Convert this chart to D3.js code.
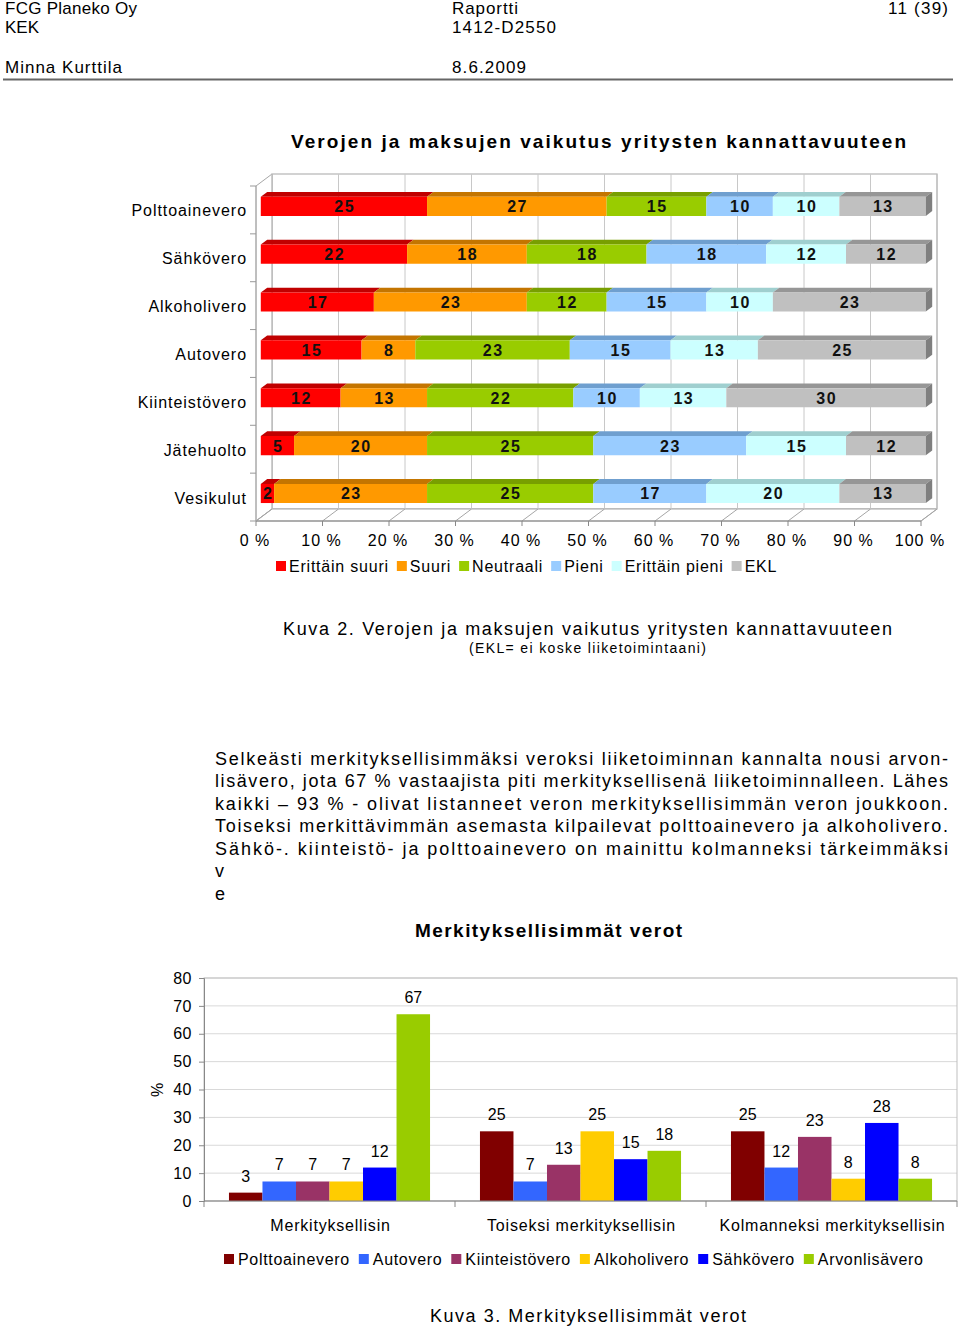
<!DOCTYPE html>
<html><head><meta charset="utf-8">
<script src="https://cdn.jsdelivr.net/npm/d3@7"></script>
<style>
body{margin:0;background:#fff}
svg{display:block}
text{font-family:"Liberation Sans",Arial,Helvetica,sans-serif}
</style>
</head><body>
<svg id="c" width="960" height="1330"></svg>
<script>
// ---------- DATA: chart 1 (100 % stacked, 3D) ----------
const taxes = ["Polttoainevero","Sähkövero","Alkoholivero","Autovero","Kiinteistövero","Jätehuolto","Vesikulut"];
const levels = ["Erittäin suuri","Suuri","Neutraali","Pieni","Erittäin pieni","EKL"];
const erittainSuuri = [25,22,17,15,12,5,2];
const suuri         = [27,18,23,8,13,20,23];
const neutraali     = [15,18,12,23,22,25,25];
const pieni         = [10,18,15,15,10,23,17];
const erittainPieni = [10,12,10,13,13,15,20];
const ekl           = [13,12,23,25,30,12,13];
const pctTicks = [0,10,20,30,40,50,60,70,80,90,100];
const pctTickLabels = ["0 %","10 %","20 %","30 %","40 %","50 %","60 %","70 %","80 %","90 %","100 %"];

// ---------- DATA: chart 2 (grouped columns) ----------
const ranks = ["Merkityksellisin","Toiseksi merkityksellisin","Kolmanneksi merkityksellisin"];
const topTaxes = ["Polttoainevero","Autovero","Kiinteistövero","Alkoholivero","Sähkövero","Arvonlisävero"];
const polttoainevero = [3,25,25];
const autovero       = [7,7,12];
const kiinteistovero = [7,13,23];
const alkoholivero   = [7,25,8];
const sahkovero      = [12,15,28];
const arvonlisavero  = [67,18,8];
const yTicks = [0,10,20,30,40,50,60,70,80];

// ---------- styles ----------
const levelColors = ["#ff0000","#ff9900","#99cc00","#99ccff","#ccffff","#c0c0c0"];
const levelTops   = ["#c00000","#c47500","#789f00","#6f9fcf","#9fcfcf","#969696"];
const taxColors = ["#800000","#3366ff","#993366","#ffcc00","#0000ff","#99cc00"];

const svg = d3.select("#c");

function txt(g, s, x, y, o = {}) {
  const t = g.append("text").attr("x", x).attr("y", y).text(s)
    .attr("font-size", o.size || 16).attr("fill", o.fill || "#000")
    .attr("text-anchor", o.anchor || "start");
  if (o.weight) t.attr("font-weight", o.weight);
  if (o.ls != null) t.attr("letter-spacing", o.ls);
  if (o.len) t.attr("textLength", o.len).attr("lengthAdjust", "spacing");
  return t;
}

// ---------- header ----------
txt(svg, "FCG Planeko Oy", 5, 14, {size:17, len:132});
txt(svg, "KEK", 5, 33, {size:17, len:34});
txt(svg, "Raportti", 452, 14, {size:17, len:66});
txt(svg, "1412-D2550", 452, 33, {size:17, len:104});
txt(svg, "11 (39)", 948, 14, {size:17, anchor:"end", len:60});
txt(svg, "Minna Kurttila", 5, 73, {size:17, len:117});
txt(svg, "8.6.2009", 452, 73, {size:17, len:74});
svg.append("line").attr("x1",3).attr("x2",953).attr("y1",79.5).attr("y2",79.5)
  .attr("stroke","#666").attr("stroke-width",2);

// ---------- chart 1 ----------
txt(svg, "Verojen ja maksujen vaikutus yritysten kannattavuuteen", 598.5, 148,
  {size:19, weight:"bold", anchor:"middle", len:615});

const c1 = svg.append("g");
const xf = d3.scaleLinear().domain([0,100]).range([256,921]);
const yb = d3.scaleBand().domain(taxes).range([186,521]).paddingInner(0.6).paddingOuter(0.3);
const DX = 16, DY = -12;
const proj = (x, y, z) => [xf(x) + DX*z, y + DY*z];
const poly = pts => "M" + pts.map(p => p.join(",")).join("L") + "Z";
const yTop = yb.range()[0], yBot = yb.range()[1];

// walls
c1.append("path").attr("d", poly([proj(0,yTop,1),proj(100,yTop,1),proj(100,yBot,1),proj(0,yBot,1)]))
  .attr("fill","#fff").attr("stroke","#a6a6a6").attr("stroke-width",1.2);
c1.append("path").attr("d", poly([proj(0,yTop,0),proj(0,yTop,1),proj(0,yBot,1),proj(0,yBot,0)]))
  .attr("fill","#fff").attr("stroke","#a6a6a6").attr("stroke-width",1);
c1.append("path").attr("d", poly([proj(0,yBot,0),proj(100,yBot,0),proj(100,yBot,1),proj(0,yBot,1)]))
  .attr("fill","#fff").attr("stroke","#a6a6a6").attr("stroke-width",1);
// gridlines
pctTicks.forEach(t => {
  const a = proj(t,yTop,1), b = proj(t,yBot,1), f = proj(t,yBot,0);
  c1.append("line").attr("x1",a[0]).attr("y1",a[1]).attr("x2",b[0]).attr("y2",b[1])
    .attr("stroke","#c8c8c8").attr("stroke-width",1);
  c1.append("line").attr("x1",f[0]).attr("y1",f[1]).attr("x2",b[0]).attr("y2",b[1])
    .attr("stroke","#a6a6a6").attr("stroke-width",1);
  c1.append("line").attr("x1",f[0]).attr("y1",f[1]).attr("x2",f[0]).attr("y2",f[1]+5)
    .attr("stroke","#888").attr("stroke-width",1);
});
c1.append("line").attr("x1",xf(0)).attr("x2",xf(100)).attr("y1",yBot).attr("y2",yBot)
  .attr("stroke","#888").attr("stroke-width",1.2);
c1.append("line").attr("x1",xf(0)).attr("x2",xf(0)).attr("y1",yTop).attr("y2",yBot)
  .attr("stroke","#aaa").attr("stroke-width",1);
[...taxes.map(t => yb(t) - yb.step()*yb.paddingInner()/2), yBot].forEach(y => {
  c1.append("line").attr("x1",xf(0)-6).attr("x2",xf(0)).attr("y1",y).attr("y2",y)
    .attr("stroke","#999").attr("stroke-width",1);
});

// bars
const series = [erittainSuuri, suuri, neutraali, pieni, erittainPieni, ekl];
const zf = 0.3, zb = 0.7;
taxes.forEach((tax, i) => {
  const vals = series.map(s => s[i]);
  const total = d3.sum(vals);
  const y0 = yb(tax), y1 = y0 + yb.bandwidth();
  let cum = 0;
  vals.forEach((v, k) => {
    const a = cum / total * 100, b = (cum + v) / total * 100;
    cum += v;
    c1.append("path").attr("d", poly([proj(a,y0,zf),proj(b,y0,zf),proj(b,y0,zb),proj(a,y0,zb)]))
      .attr("fill", levelTops[k]);
    c1.append("path").attr("d", poly([proj(a,y0,zf),proj(b,y0,zf),proj(b,y1,zf),proj(a,y1,zf)]))
      .attr("fill", levelColors[k]);
    const cx = (proj(a,0,zf)[0] + proj(b,0,zf)[0]) / 2;
    const cy = (y0 + y1) / 2 + DY*zf;
    txt(c1, String(v), cx + 0.8, cy + 6, {size:16, weight:"bold", anchor:"middle", ls:1.6, fill:"#111"});
  });
  c1.append("path").attr("d", poly([proj(100,y0,zf),proj(100,y0,zb),proj(100,y1,zb),proj(100,y1,zf)]))
    .attr("fill", "#7f7f7f");
  txt(c1, tax, 247, y0 + yb.bandwidth()/2 + 6.5, {size:16, anchor:"end", ls:0.95});
});

// x tick labels
pctTicks.forEach((t, i) => {
  txt(c1, pctTickLabels[i], xf(t) - 1, 546, {size:16, anchor:"middle", ls:1});
});

// legend 1
(function(){
  let x = 276;
  levels.forEach((l, k) => {
    c1.append("rect").attr("x", x).attr("y", 561).attr("width", 10).attr("height", 10).attr("fill", levelColors[k]);
    const t = txt(c1, l, x + 13, 572, {size:16, ls:0.78});
    x = x + 13 + t.node().getComputedTextLength() + 8;
  });
})();

txt(svg, "Kuva 2. Verojen ja maksujen vaikutus yritysten kannattavuuteen", 587.5, 634.5,
  {size:18, anchor:"middle", len:609});
txt(svg, "(EKL= ei koske liiketoimintaani)", 587.5, 653, {size:14, anchor:"middle", len:237});

// ---------- paragraph ----------
const para = [
  "Selkeästi merkityksellisimmäksi veroksi liiketoiminnan kannalta nousi arvon-",
  "lisävero, jota 67 % vastaajista piti merkityksellisenä liiketoiminnalleen. Lähes",
  "kaikki – 93 % - olivat listanneet veron merkityksellisimmän veron joukkoon.",
  "Toiseksi merkittävimmän asemasta kilpailevat polttoainevero ja alkoholivero.",
  "Sähkö-. kiinteistö- ja polttoainevero on mainittu kolmanneksi tärkeimmäksi",
  "v",
  "e"
];
para.forEach((l, i) => {
  const o = {size:18};
  if (i < 5) o.len = 733;
  txt(svg, l, 215, 764.5 + i*22.5, o);
});

// ---------- chart 2 ----------
txt(svg, "Merkityksellisimmät verot", 548.5, 937, {size:19, weight:"bold", anchor:"middle", len:267});

const c2 = svg.append("g");
const yS = d3.scaleLinear().domain([0,80]).range([1201,978]);
const x0 = d3.scaleBand().domain(ranks).range([204,957]);
const x1 = d3.scaleBand().domain(topTaxes).range([0, x0.bandwidth()]).paddingInner(0).paddingOuter(0.745);
const vals2 = [polttoainevero, autovero, kiinteistovero, alkoholivero, sahkovero, arvonlisavero];

// grid + border
yTicks.forEach(t => {
  c2.append("line").attr("x1",204).attr("x2",957).attr("y1",yS(t)).attr("y2",yS(t))
    .attr("stroke","#d9d9d9").attr("stroke-width",1);
});
c2.append("rect").attr("x",204).attr("y",yS(80)).attr("width",957-204).attr("height",yS(0)-yS(80))
  .attr("fill","none").attr("stroke","#bfbfbf").attr("stroke-width",1);

// bars
ranks.forEach((r, gi) => {
  topTaxes.forEach((tx, k) => {
    const v = vals2[k][gi];
    const x = x0(r) + x1(tx);
    c2.append("rect").attr("x", x).attr("y", yS(v)).attr("width", x1.bandwidth()).attr("height", yS(0) - yS(v))
      .attr("fill", taxColors[k]);
    txt(c2, String(v), x + x1.bandwidth()/2, yS(v) - 11, {size:16, anchor:"middle"});
  });
});

// y axis
const yAx = c2.append("g").attr("transform","translate(204,0)")
  .call(d3.axisLeft(yS).tickValues(yTicks).tickSize(5).tickPadding(7));
yAx.select(".domain").attr("stroke","#888");
yAx.selectAll(".tick line").attr("stroke","#888");
yAx.selectAll(".tick text").attr("font-size",16).attr("font-family",'"Liberation Sans",Arial,sans-serif')
  .attr("fill","#000").attr("letter-spacing",0.5);

// x axis
c2.append("line").attr("x1",204).attr("x2",957).attr("y1",1201).attr("y2",1201).attr("stroke","#888").attr("stroke-width",1.2);
[...ranks.map(r => x0(r)), 957].forEach(x => {
  c2.append("line").attr("x1",x).attr("x2",x).attr("y1",1201).attr("y2",1207).attr("stroke","#888");
});
ranks.forEach(r => {
  txt(c2, r, x0(r) + x0.bandwidth()/2 + 1, 1231, {size:16, anchor:"middle", ls:0.8});
});
txt(c2, "%", 0, 0, {size:16, anchor:"middle"}).attr("transform","translate(163,1090) rotate(-90)");

// legend 2
(function(){
  let x = 224;
  topTaxes.forEach((l, k) => {
    c2.append("rect").attr("x", x).attr("y", 1254).attr("width", 10).attr("height", 10).attr("fill", taxColors[k]);
    const t = txt(c2, l, x + 14, 1265, {size:16, ls:0.68});
    x = x + 14 + t.node().getComputedTextLength() + 9;
  });
})();

txt(svg, "Kuva 3. Merkityksellisimmät verot", 588, 1322, {size:18, anchor:"middle", len:316});
</script>
</body></html>
